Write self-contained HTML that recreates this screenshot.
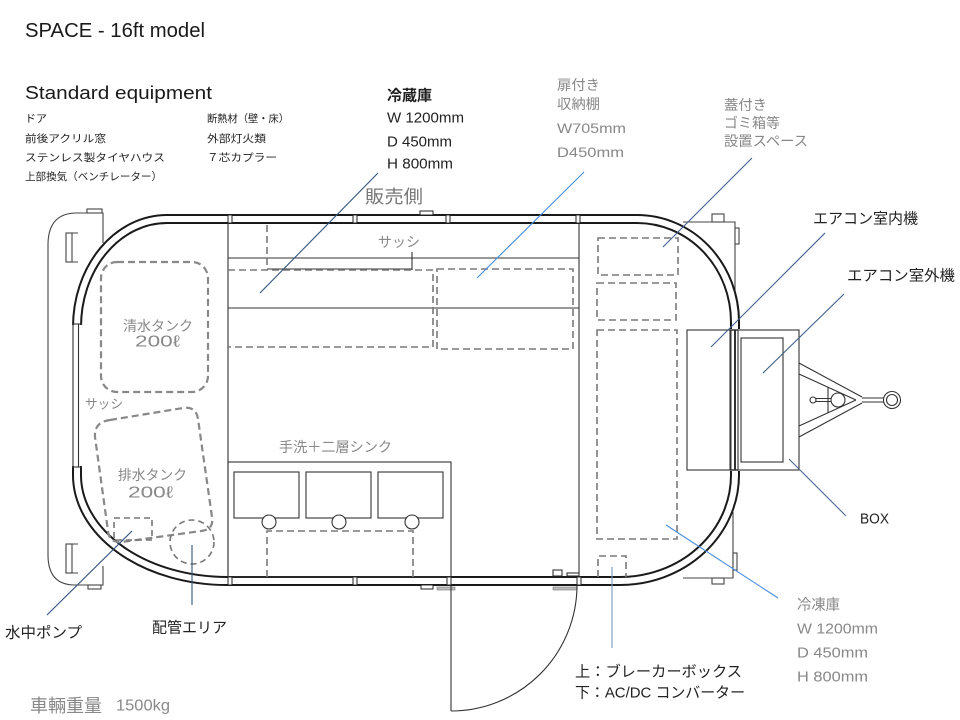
<!DOCTYPE html>
<html><head><meta charset="utf-8"><style>
html,body{margin:0;padding:0;background:#fff;}
svg{display:block;}
text{font-family:"Liberation Sans","Noto Sans CJK JP",sans-serif;dominant-baseline:central;}
</style></head><body>
<svg width="960" height="720" viewBox="0 0 960 720" xmlns="http://www.w3.org/2000/svg">
<rect x="0" y="0" width="960" height="720" fill="#fff"/>

<!-- Header texts -->
<text x="25" y="31" font-size="20" fill="#1a1a1a" textLength="180" lengthAdjust="spacingAndGlyphs">SPACE - 16ft model</text>
<text x="25" y="93" font-size="18" fill="#1a1a1a" textLength="187" lengthAdjust="spacingAndGlyphs">Standard equipment</text>
<g font-size="10.5" fill="#222">
<text x="25" y="119" textLength="22" lengthAdjust="spacingAndGlyphs">ドア</text>
<text x="25" y="139" textLength="81" lengthAdjust="spacingAndGlyphs">前後アクリル窓</text>
<text x="25" y="158" textLength="140" lengthAdjust="spacingAndGlyphs">ステンレス製タイヤハウス</text>
<text x="25" y="177" textLength="137" lengthAdjust="spacingAndGlyphs">上部換気（ベンチレーター）</text>
<text x="207" y="119" textLength="82" lengthAdjust="spacingAndGlyphs">断熱材（壁・床）</text>
<text x="207" y="139" textLength="59" lengthAdjust="spacingAndGlyphs">外部灯火類</text>
<text x="207" y="158" textLength="70" lengthAdjust="spacingAndGlyphs">７芯カプラー</text>
</g>

<!-- 冷蔵庫 block -->
<g fill="#222" font-size="15">
<text x="387" y="96" font-weight="bold" textLength="45" lengthAdjust="spacingAndGlyphs">冷蔵庫</text>
<text x="387" y="118" textLength="77" lengthAdjust="spacingAndGlyphs">W 1200mm</text>
<text x="387" y="142" textLength="65" lengthAdjust="spacingAndGlyphs">D 450mm</text>
<text x="387" y="164" textLength="66" lengthAdjust="spacingAndGlyphs">H 800mm</text>
</g>
<!-- 扉付き block -->
<g fill="#888" font-size="14">
<text x="557" y="85" textLength="43" lengthAdjust="spacingAndGlyphs">扉付き</text>
<text x="557" y="104" textLength="43" lengthAdjust="spacingAndGlyphs">収納棚</text>
<text x="557" y="128" textLength="69" lengthAdjust="spacingAndGlyphs">W705mm</text>
<text x="557" y="152" textLength="67" lengthAdjust="spacingAndGlyphs">D450mm</text>
<text x="724" y="105" textLength="43" lengthAdjust="spacingAndGlyphs">蓋付き</text>
<text x="724" y="123" textLength="56" lengthAdjust="spacingAndGlyphs">ゴミ箱等</text>
<text x="724" y="141" textLength="84" lengthAdjust="spacingAndGlyphs">設置スペース</text>
</g>
<text x="365" y="197" font-size="18" fill="#777" textLength="58" lengthAdjust="spacingAndGlyphs">販売側</text>

<!-- right labels -->
<g fill="#222" font-size="15">
<text x="813" y="219" textLength="105" lengthAdjust="spacingAndGlyphs">エアコン室内機</text>
<text x="847" y="276" textLength="108" lengthAdjust="spacingAndGlyphs">エアコン室外機</text>
<text x="860" y="519" textLength="29" lengthAdjust="spacingAndGlyphs">BOX</text>
<text x="575" y="672" textLength="167" lengthAdjust="spacingAndGlyphs">上：ブレーカーボックス</text>
<text x="575" y="693" textLength="170" lengthAdjust="spacingAndGlyphs">下：AC/DC コンバーター</text>
<text x="5" y="633" textLength="77" lengthAdjust="spacingAndGlyphs">水中ポンプ</text>
<text x="152" y="628" textLength="75" lengthAdjust="spacingAndGlyphs">配管エリア</text>
</g>
<g fill="#888" font-size="15">
<text x="797" y="605" textLength="43" lengthAdjust="spacingAndGlyphs">冷凍庫</text>
<text x="797" y="629" textLength="81" lengthAdjust="spacingAndGlyphs">W 1200mm</text>
<text x="797" y="653" textLength="71" lengthAdjust="spacingAndGlyphs">D 450mm</text>
<text x="797" y="677" textLength="71" lengthAdjust="spacingAndGlyphs">H 800mm</text>
</g>
<text x="30" y="706" font-size="18" fill="#888" textLength="72" lengthAdjust="spacingAndGlyphs">車輛重量</text>
<text x="116" y="706" font-size="16" fill="#888" textLength="54" lengthAdjust="spacingAndGlyphs">1500kg</text>

<!-- Left front panel -->
<g fill="none" stroke="#444" stroke-width="1.1">
<path d="M103,243 L103,213 L75,213 Q48,214 48,245 L48,555 Q48,585 75,585 L103,585 L103,566"/>
<rect x="87" y="209" width="15" height="4" fill="#fff"/>
<rect x="88" y="585" width="13" height="4" fill="#fff"/>
<rect x="66" y="233" width="6" height="29" fill="#fff"/>
<path d="M72,233 L78,233 M72,262 L78,262"/>
<rect x="66" y="544" width="6" height="29" fill="#fff"/>
<path d="M72,544 L78,544 M72,573 L78,573"/>
</g>

<!-- Right hitch-side structure -->
<g fill="none" stroke="#444" stroke-width="1.1">
<path d="M683,222 L735,222 L735,292"/>
<path d="M683,578 L733,578 L733,512"/>
<rect x="712" y="214" width="12" height="8" fill="#fff"/>
<rect x="712" y="578" width="12" height="6" fill="#fff"/>
<rect x="735" y="228" width="4" height="16" fill="#fff"/>
<rect x="733" y="553" width="4" height="17" fill="#fff"/>
</g>

<!-- Body double wall -->
<g fill="none" stroke="#1a1a1a" stroke-width="2">
<path d="M167,215 L637,215 A102,107 0 0 1 739,322 L739,475 A119,110 0 0 1 620,585 L227,585 A154,110 0 0 1 73,475 L73,327 A94,112 0 0 1 167,215 Z"/>
<path d="M167,223 L637,223 A94,99 0 0 1 731,322 L731,475 A111,102 0 0 1 620,577 L227,577 A146,102 0 0 1 81,475 L81,327 A86,104 0 0 1 167,223 Z"/>
</g>

<!-- left window -->
<rect x="68" y="325" width="18" height="141" fill="#fff"/>
<g stroke="#333" stroke-width="1.1" fill="none">
<line x1="73" y1="324" x2="73" y2="467"/>
<line x1="78.5" y1="324" x2="78.5" y2="467"/>
<line x1="72" y1="324" x2="82" y2="324"/>
<line x1="72" y1="467" x2="82" y2="467"/>
</g>

<!-- top / bottom wall posts -->
<g fill="#fff" stroke="#222" stroke-width="1">
<rect x="228" y="215" width="4" height="8"/>
<rect x="353" y="215" width="4" height="8"/>
<rect x="446" y="215" width="4" height="8"/>
<rect x="576" y="215" width="4" height="8"/>
<rect x="228" y="577" width="4" height="8"/>
<rect x="353" y="577" width="4" height="8"/>
<rect x="447" y="577" width="4" height="8"/>
<rect x="577" y="577" width="4" height="8"/>
<rect x="420" y="211" width="13" height="4"/>
<rect x="421" y="585" width="12" height="4"/>
<rect x="553" y="570" width="9" height="6"/>
<rect x="567" y="573" width="12" height="3"/>
</g>
<g fill="#bbb" stroke="#777" stroke-width="0.6">
<rect x="553" y="587" width="24" height="3"/>
<rect x="437" y="587" width="18" height="3"/>
</g>

<!-- AC wall section -->
<rect x="727" y="329" width="15" height="142" fill="#fff"/>
<g fill="none" stroke="#333">
<rect x="687" y="330" width="43" height="140" stroke-width="1.1"/>
<rect x="738" y="330" width="61" height="140" stroke-width="1.1"/>
<rect x="741" y="338" width="42" height="124" stroke-width="1.1"/>
<line x1="731" y1="330" x2="731" y2="470" stroke-width="1"/>
<line x1="735" y1="330" x2="735" y2="470" stroke-width="2"/>
<line x1="730" y1="330" x2="738" y2="330" stroke-width="1.5"/>
<line x1="730" y1="470" x2="738" y2="470" stroke-width="1.5"/>
</g>

<!-- Hitch -->
<g stroke="#333" stroke-width="1.1" fill="none">
<line x1="799" y1="363" x2="862" y2="397"/>
<line x1="799" y1="374" x2="856" y2="400"/>
<line x1="799" y1="437" x2="862" y2="403"/>
<line x1="799" y1="426" x2="856" y2="400"/>
<line x1="828" y1="387" x2="828" y2="413"/>
<line x1="862" y1="398" x2="884" y2="398"/>
<line x1="862" y1="402" x2="884" y2="402"/>
<circle cx="892" cy="400" r="8.5"/>
<circle cx="892" cy="400" r="5.5"/>
<line x1="815" y1="398.5" x2="833" y2="398.5"/>
<line x1="815" y1="401.5" x2="833" y2="401.5"/>
<circle cx="813" cy="400" r="3" fill="#fff"/>
<circle cx="838" cy="400" r="7" fill="#fff"/>
</g>

<!-- Interior solid lines -->
<g stroke="#333" stroke-width="1.1" fill="none">
<line x1="228" y1="223" x2="228" y2="577"/>
<line x1="579" y1="223" x2="579" y2="577"/>
<line x1="228" y1="258" x2="579" y2="258"/>
<line x1="228" y1="308" x2="579" y2="308"/>
<line x1="267" y1="269" x2="412" y2="269"/>
<line x1="412" y1="252" x2="412" y2="270"/>
<rect x="228" y="462" width="223" height="115"/>
<rect x="234" y="472" width="65" height="46"/>
<rect x="306" y="472" width="65" height="46"/>
<rect x="378" y="472" width="65" height="46"/>
<circle cx="269" cy="522" r="7" fill="#fff"/>
<circle cx="339" cy="522" r="7" fill="#fff"/>
<circle cx="412" cy="522" r="7" fill="#fff"/>
<!-- door -->
<line x1="451" y1="586" x2="451" y2="711"/>
<path d="M451,711 A126,126 0 0 0 577,586"/>
</g>

<!-- Dashed items -->
<g stroke="#7a7a7a" stroke-width="1.6" fill="none" stroke-dasharray="7 4">
<line x1="267" y1="225" x2="267" y2="270"/>
<path d="M228,270 L433,270 L433,347 L228,347"/>
<rect x="437" y="269" width="136" height="80"/>
<rect x="598" y="238" width="80" height="37"/>
<rect x="597" y="283" width="79" height="37"/>
<rect x="597" y="330" width="80" height="209"/>
<path d="M598,577 L598,556 L626,556 L626,577"/>
<path d="M267,577 L267,531 L413,531 L413,577"/>
</g>
<g stroke="#888" stroke-width="2.2" fill="none" stroke-dasharray="7 4">
<rect x="101" y="262" width="107" height="130" rx="16"/>
<path d="M110,420 L183,408 Q196,406 198,419 L212,517 Q214,530 201,531 L122,542 Q109,543 108,531 L95,437 Q94,422 110,420 Z"/>
</g>
<g stroke="#777" stroke-width="1.6" fill="none" stroke-dasharray="6 4">
<rect x="114" y="518" width="38" height="22"/>
<circle cx="192" cy="542" r="22"/>
</g>

<!-- Interior labels -->
<g fill="#888">
<text x="378" y="242" font-size="14" textLength="42" lengthAdjust="spacingAndGlyphs">サッシ</text>
<text x="85" y="404" font-size="13" textLength="38" lengthAdjust="spacingAndGlyphs">サッシ</text>
<text x="123" y="326" font-size="14" textLength="70" lengthAdjust="spacingAndGlyphs">清水タンク</text>
<text x="135" y="342" font-size="16" textLength="45" lengthAdjust="spacingAndGlyphs">200ℓ</text>
<text x="118" y="475" font-size="14" textLength="69" lengthAdjust="spacingAndGlyphs">排水タンク</text>
<text x="128" y="493" font-size="16" textLength="45" lengthAdjust="spacingAndGlyphs">200ℓ</text>
<text x="279" y="447" font-size="14" textLength="113" lengthAdjust="spacingAndGlyphs">手洗＋二層シンク</text>
</g>

<!-- Leader lines -->
<g stroke-width="1.1" fill="none">
<line x1="378" y1="173" x2="260" y2="293" stroke="#34557d"/>
<line x1="584" y1="172" x2="477" y2="278" stroke="#4a8ede"/>
<line x1="752" y1="158" x2="663" y2="247" stroke="#3d5f86"/>
<line x1="825" y1="233" x2="711" y2="347" stroke="#3d5f86"/>
<line x1="844" y1="294" x2="763" y2="373" stroke="#3d5f86"/>
<line x1="789" y1="459" x2="846" y2="516" stroke="#4a6a90"/>
<line x1="666" y1="525" x2="778" y2="598" stroke="#4a8ede"/>
<line x1="612" y1="567" x2="612" y2="648" stroke="#7a95b5"/>
<line x1="47" y1="615" x2="132" y2="531" stroke="#34557d"/>
<line x1="192" y1="545" x2="192" y2="605" stroke="#34557d"/>
</g>
</svg>
</body></html>
